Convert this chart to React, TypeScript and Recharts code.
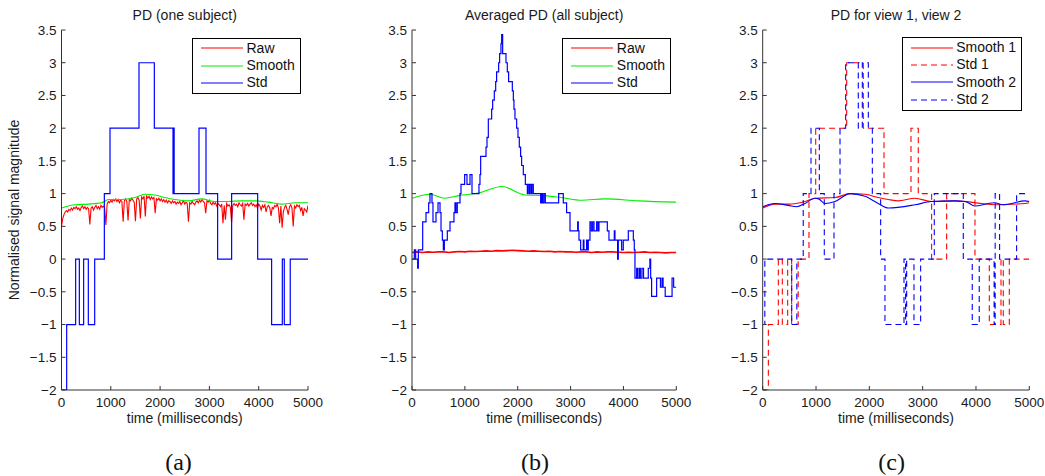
import React from 'react';
import { LineChart, Line, XAxis, YAxis, Legend, Label } from 'recharts';

const FONT = '"Liberation Sans", Arial, Helvetica, sans-serif';
const SERIF = '"Liberation Serif", "Times New Roman", serif';

const TIME_TICKS = [0, 1000, 2000, 3000, 4000, 5000];
const VALUE_TICKS = [-2, -1.5, -1, -0.5, 0, 0.5, 1, 1.5, 2, 2.5, 3, 3.5];
const PANEL_TITLES = ['PD (one subject)', 'Averaged PD (all subject)', 'PD for view 1, view 2'];
const PANEL_TAGS = ['(a)', '(b)', '(c)'];
const X_LABEL = 'time (milliseconds)';
const Y_LABEL = 'Normalised signal magnitude';

// ---------- Panel (a): one subject ----------
const RAW_A_STEP = 25;
const RAW_A = [
  0.50, 0.62, 0.68, 0.72, 0.74, 0.72, 0.76, 0.74, 0.78, 0.75,
  0.79, 0.77, 0.80, 0.76, 0.78, 0.74, 0.79, 0.81, 0.77, 0.80,
  0.76, 0.79, 0.77, 0.53, 0.78, 0.80, 0.75, 0.79, 0.82, 0.77,
  0.80, 0.76, 0.82, 0.79, 0.81, 0.78, 0.52, 0.84, 0.88, 0.86,
  0.90, 0.87, 0.91, 0.89, 0.92, 0.88, 0.91, 0.86, 0.90, 0.88,
  0.57, 0.89, 0.92, 0.88, 0.59, 0.91, 0.89, 0.93, 0.90, 0.87,
  0.58, 0.92, 0.94, 0.90, 0.62, 0.95, 0.92, 0.96, 0.65, 0.97,
  0.93, 0.96, 0.91, 0.95, 0.92, 0.94, 0.70, 0.92, 0.90, 0.93,
  0.89, 0.92, 0.88, 0.91, 0.87, 0.90, 0.86, 0.89, 0.88, 0.85,
  0.89, 0.86, 0.88, 0.84, 0.87, 0.85, 0.88, 0.83, 0.86, 0.89,
  0.84, 0.87, 0.85, 0.57, 0.86, 0.84, 0.88, 0.85, 0.83, 0.87,
  0.89, 0.86, 0.90, 0.87, 0.91, 0.88, 0.86, 0.70, 0.89, 0.87,
  0.90, 0.85, 0.83, 0.87, 0.84, 0.86, 0.81, 0.85, 0.83, 0.80,
  0.84, 0.55, 0.82, 0.60, 0.85, 0.81, 0.83, 0.79, 0.56, 0.82,
  0.85, 0.82, 0.84, 0.80, 0.86, 0.83, 0.81, 0.85, 0.60, 0.84,
  0.82, 0.85, 0.81, 0.84, 0.86, 0.82, 0.84, 0.80, 0.83, 0.78,
  0.84, 0.81, 0.75, 0.82, 0.79, 0.83, 0.72, 0.80, 0.82, 0.78,
  0.66, 0.79, 0.77, 0.82, 0.80, 0.84, 0.78, 0.55, 0.81, 0.48,
  0.72, 0.79, 0.82, 0.76, 0.68, 0.80, 0.83, 0.78, 0.50, 0.81,
  0.78, 0.83, 0.80, 0.82, 0.74, 0.79, 0.66, 0.77, 0.75, 0.72,
  0.82,
];
const SMOOTH_A_T = [0, 274, 544, 815, 950, 1220, 1490, 1693, 1896, 2098, 2301, 2572, 2842, 3112, 3383, 3653, 3923, 4194, 4464, 4735, 5000];
const SMOOTH_A = [0.78, 0.83, 0.84, 0.86, 0.91, 0.91, 0.94, 0.99, 0.98, 0.94, 0.91, 0.89, 0.92, 0.88, 0.88, 0.89, 0.89, 0.87, 0.84, 0.86, 0.86];
const STD_A_T = [0, 105, 287, 362, 449, 544, 673, 869, 984, 1572, 1883, 2262, 2272, 2285, 2789, 2931, 3167, 3451, 3979, 4262, 4479, 4519, 4640, 5000];
const STD_A = [-2, -1, 0, -1, 0, -1, 0, 1, 2, 3, 2, 1, 2, 1, 2, 1, 0, 1, 0, -1, 0, -1, 0, 0];

// ---------- Panel (b): averaged over subjects ----------
const RAW_B_STEP = 100;
const RAW_B = [
  0.10, 0.11, 0.10, 0.11, 0.105, 0.11, 0.11, 0.10, 0.11, 0.115,
  0.11, 0.12, 0.115, 0.12, 0.125, 0.12, 0.13, 0.125, 0.13, 0.135,
  0.13, 0.125, 0.12, 0.125, 0.12, 0.115, 0.12, 0.11, 0.115, 0.11,
  0.11, 0.105, 0.11, 0.11, 0.10, 0.11, 0.105, 0.11, 0.11, 0.105,
  0.10, 0.105, 0.10, 0.105, 0.11, 0.10, 0.105, 0.10, 0.095, 0.10,
  0.10,
];
const SMOOTH_B_T = [0, 340, 620, 880, 1255, 1700, 2140, 2500, 2830, 3210, 3650, 4280, 5000];
const SMOOTH_B = [0.93, 0.99, 0.93, 0.97, 1.01, 1.11, 0.98, 0.97, 0.94, 0.90, 0.92, 0.89, 0.87];
const STD_B_T = [
  0, 44, 69, 107, 120, 202, 265, 315, 340, 378, 397, 454, 492, 530, 549, 574, 593, 612, 668, 719,
  794, 813, 832, 857, 908, 927, 996, 1040, 1097, 1135, 1267, 1286, 1299, 1400, 1419, 1444, 1507, 1526, 1557, 1583,
  1601, 1639, 1658, 1683, 1696, 1715, 1778, 1803, 1828, 1898, 1917, 1929, 1948, 1980, 2005, 2030, 2055, 2074, 2106, 2144,
  2182, 2194, 2219, 2232, 2257, 2270, 2295, 2434, 2453, 2472, 2497, 2522, 2774, 2862, 2925, 2989, 3134, 3146, 3159, 3190,
  3240, 3253, 3303, 3316, 3335, 3367, 3392, 3418, 3443, 3493, 3518, 3537, 3695, 3726, 3827, 3840, 3890, 3903, 3966, 3997,
  4092, 4187, 4205, 4218, 4250, 4270, 4300, 4320, 4350, 4380, 4470, 4500, 4515, 4533, 4628, 4700, 4730, 4750, 4790, 4920,
  4950, 5000,
];
const STD_B = [
  0, 0.14, 0, -0.14, 0.14, 0.57, 0.71, 0.86, 1.0, 0.86, 0.57, 0.71, 0.86, 0.71, 0.43, 0.29, 0.14, 0.29, 0.43, 0.57,
  0.71, 0.86, 0.71, 0.86, 1.0, 1.14, 1.29, 1.14, 1.29, 1.0, 1.14, 1.29, 1.57, 1.71, 1.86, 2.14, 2.29, 2.43, 2.57, 2.71,
  2.86, 3.0, 3.14, 3.29, 3.43, 3.14, 3.0, 2.86, 2.71, 2.57, 2.43, 2.29, 2.14, 2.0, 1.86, 1.71, 1.57, 1.43, 1.29, 1.14,
  1.0, 1.14, 1.0, 1.14, 1.0, 1.14, 1.0, 0.86, 1.0, 0.86, 1.0, 0.86, 1.0, 0.86, 0.71, 0.43, 0.57, 0.43, 0.29, 0.14,
  0.29, 0.14, 0.29, 0.14, 0.29, 0.57, 0.43, 0.57, 0.43, 0.57, 0.43, 0.57, 0.43, 0.29, 0.43, 0.29, 0, 0.29, 0.14, 0.29,
  0.43, 0.29, 0.14, -0.29, -0.14, -0.29, -0.14, -0.29, -0.14, -0.29, -0.14, 0, -0.29, -0.57, -0.29, -0.43, -0.29, -0.43, -0.57, -0.29,
  -0.43, -0.43,
];

// ---------- Panel (c): view 1 vs view 2 ----------
const SMOOTH1_T = [0, 231, 481, 793, 981, 1356, 1637, 1918, 2168, 2356, 2543, 2856, 3168, 3606, 4106, 4356, 4918, 5000];
const SMOOTH1 = [0.78, 0.84, 0.84, 0.88, 0.93, 0.94, 1.0, 0.99, 0.94, 0.91, 0.89, 0.93, 0.88, 0.89, 0.85, 0.83, 0.85, 0.86];
const STD1_T = [0, 106, 293, 368, 468, 543, 665, 868, 994, 1575, 1887, 2275, 2781, 2918, 3168, 3450, 3981, 4250, 4469, 4512, 4625, 5000];
const STD1 = [-2, -1, 0, -1, 0, -1, 0, 1, 2, 3, 2, 1, 2, 1, 0, 1, 0, -1, 0, -1, 0, 0];
const SMOOTH2_T = [0, 231, 481, 637, 793, 981, 1050, 1168, 1356, 1637, 1918, 2168, 2356, 2856, 3168, 3606, 3800, 3981, 4231, 4350, 4500, 4668, 4918, 5000];
const SMOOTH2 = [0.80, 0.85, 0.82, 0.80, 0.85, 0.93, 0.92, 0.85, 0.88, 1.0, 0.96, 0.85, 0.78, 0.83, 0.88, 0.89, 0.88, 0.81, 0.85, 0.86, 0.83, 0.85, 0.89, 0.88];
const STD2_T = [0, 40, 544, 640, 760, 906, 1062, 1155, 1337, 1450, 1556, 1793, 1868, 1981, 2056, 2212, 2293, 2650, 2680, 2700, 2837, 2962, 3218, 3762, 3930, 4061, 4340, 4360, 4443, 4762, 5000];
const STD2 = [-1, 0, -1, 0, 1, 2, 1, 0, 1, 2, 3, 2, 3, 2, 1, 0, -1, 0, -1, 0, -1, 0, 1, 0, -1, 0, -1, 1, 0, 1, 1];

const RED = '#ff0000';
const GREEN = '#00ee00';
const BLUE = '#0000ff';

type Pt = { t: number; v: number };
const zip = (ts: number[], vs: number[]): Pt[] => ts.map((t, i) => ({ t, v: vs[i] }));
const sampled = (step: number, vs: number[]): Pt[] => vs.map((v, i) => ({ t: i * step, v }));

type Series = { name: string; data: Pt[]; color: string; dashed?: boolean; step?: boolean; width?: number; curve?: boolean };

const fmt = (v: number) => (v < 0 ? '\u2212' + String(-v) : String(v));

function XTick(props: any) {
  const { x, y, payload } = props;
  return (
    <g>
      <line x1={x} x2={x} y1={y} y2={y - 4} stroke="#333" strokeWidth={1} />
      <text x={x} y={y + 17} textAnchor="middle" fontSize={13.5} fontFamily={FONT} fill="#1a1a1a">
        {fmt(payload.value)}
      </text>
    </g>
  );
}

function YTick(props: any) {
  const { x, y, payload } = props;
  return (
    <g>
      <line x1={x} x2={x + 4} y1={y} y2={y} stroke="#333" strokeWidth={1} />
      <text x={x - 5} y={y + 4.8} textAnchor="end" fontSize={13.5} fontFamily={FONT} fill="#1a1a1a">
        {fmt(payload.value)}
      </text>
    </g>
  );
}

function XLabelContent(props: any) {
  const vb = props.viewBox || { x: 0, y: 0, width: 0 };
  return (
    <text x={vb.x + vb.width / 2} y={vb.y + 33} textAnchor="middle" fontSize={14} fontFamily={FONT} fill="#1a1a1a">
      {X_LABEL}
    </text>
  );
}

function YLabelContent(props: any) {
  const vb = props.viewBox || { x: 0, y: 0, height: 0 };
  const cx = vb.x + 18.5;
  const cy = vb.y + vb.height / 2;
  return (
    <text x={cx} y={cy} transform={`rotate(-90, ${cx}, ${cy})`} textAnchor="middle" fontSize={14} fontFamily={FONT} fill="#1a1a1a">
      {Y_LABEL}
    </text>
  );
}

function LegendBox({ items, width }: { items: Series[]; width: number }) {
  return (
    <div
      style={{
        width,
        boxSizing: 'border-box',
        border: '1px solid #000',
        background: '#fff',
        padding: '0.6px 0 1.4px 0',
        fontFamily: FONT,
        fontSize: 14,
        color: '#111',
      }}
    >
      {items.map((it) => (
        <div key={it.name} style={{ display: 'flex', alignItems: 'center', height: 17.35, whiteSpace: 'nowrap' }}>
          <svg width={50} height={6} style={{ flex: 'none', display: 'block' }}>
            <line x1={8} x2={50} y1={3} y2={3} stroke={it.color} strokeWidth={1.2} strokeDasharray={it.dashed ? '6 4' : undefined} />
          </svg>
          <span style={{ marginLeft: 3.5, lineHeight: '17.35px' }}>{it.name}</span>
        </div>
      ))}
    </div>
  );
}

type PanelProps = {
  left: number;
  width: number;
  plotLeft: number;
  plotRight: number;
  series: Series[];
  legendLeft: number;
  legendTop: number;
  legendWidth: number;
  showYLabel: boolean;
  title: string;
  tag: string;
  tagCenter: number;
};

function Panel(p: PanelProps) {
  return (
    <div style={{ position: 'absolute', left: p.left, top: 0, width: p.width, height: 476 }}>
      <LineChart width={p.width} height={476} margin={{ top: 30, right: p.width - p.plotRight, bottom: 0, left: 0 }}>
        <XAxis
          type="number"
          dataKey="t"
          domain={[0, 5000]}
          ticks={TIME_TICKS}
          interval={0}
          height={86}
          tickSize={0}
          tickMargin={0}
          tickLine={false}
          axisLine={{ stroke: '#333' }}
          tick={(tp: any) => <XTick {...tp} />}
          allowDataOverflow
        >
          <Label content={XLabelContent} />
        </XAxis>
        <YAxis
          type="number"
          domain={[-2, 3.5]}
          ticks={VALUE_TICKS}
          interval={0}
          width={p.plotLeft}
          tickSize={0}
          tickMargin={0}
          tickLine={false}
          axisLine={{ stroke: '#333' }}
          tick={(tp: any) => <YTick {...tp} />}
          allowDataOverflow
        >
          {p.showYLabel ? <Label content={YLabelContent} /> : null}
        </YAxis>
        {p.series.map((s) => (
          <Line
            key={s.name}
            name={s.name}
            data={s.data}
            dataKey="v"
            type={s.step ? 'stepAfter' : s.curve ? 'monotone' : 'linear'}
            stroke={s.color}
            strokeWidth={s.width ?? 1.1}
            strokeDasharray={s.dashed ? '6 4' : undefined}
            dot={false}
            activeDot={false}
            isAnimationActive={false}
          />
        ))}
        <Legend
          layout="vertical"
          align="center"
          verticalAlign="middle"
          wrapperStyle={{ left: p.legendLeft, top: p.legendTop, width: p.legendWidth }}
          content={() => <LegendBox items={p.series} width={p.legendWidth} />}
        />
      </LineChart>
      <div
        style={{
          position: 'absolute',
          left: p.plotLeft - 100,
          width: p.plotRight - p.plotLeft + 200,
          top: 7.6,
          textAlign: 'center',
          fontFamily: FONT,
          fontSize: 14,
          lineHeight: '14px',
          color: '#1a1a1a',
          whiteSpace: 'nowrap',
        }}
      >
        {p.title}
      </div>
      <div
        style={{
          position: 'absolute',
          left: p.tagCenter - 40,
          width: 80,
          top: 450,
          textAlign: 'center',
          fontFamily: SERIF,
          fontSize: 24,
          lineHeight: '24px',
          color: '#111',
        }}
      >
        {p.tag}
      </div>
    </div>
  );
}

const seriesA: Series[] = [
  { name: 'Raw', data: sampled(RAW_A_STEP, RAW_A), color: RED, width: 1.1 },
  { name: 'Smooth', data: zip(SMOOTH_A_T, SMOOTH_A), color: GREEN, curve: true },
  { name: 'Std', data: zip(STD_A_T, STD_A), color: BLUE, step: true, width: 1.2 },
];
const seriesB: Series[] = [
  { name: 'Raw', data: sampled(RAW_B_STEP, RAW_B), color: RED, width: 1.6 },
  { name: 'Smooth', data: zip(SMOOTH_B_T, SMOOTH_B), color: GREEN, curve: true },
  { name: 'Std', data: zip(STD_B_T, STD_B), color: BLUE, step: true, width: 1.2 },
];
const seriesC: Series[] = [
  { name: 'Smooth 1', data: zip(SMOOTH1_T, SMOOTH1), color: RED, curve: true },
  { name: 'Std 1', data: zip(STD1_T, STD1), color: RED, step: true, dashed: true },
  { name: 'Smooth 2', data: zip(SMOOTH2_T, SMOOTH2), color: BLUE, curve: true },
  { name: 'Std 2', data: zip(STD2_T, STD2), color: BLUE, step: true, dashed: true },
];

export default function App() {
  return (
    <div style={{ position: 'absolute', left: 0, top: 0, width: 1045, height: 476, background: '#fff', overflow: 'hidden' }}>
      <Panel left={0} width={350} plotLeft={61.5} plotRight={308} series={seriesA}
        legendLeft={192} legendTop={38} legendWidth={109} showYLabel title={PANEL_TITLES[0]} tag={PANEL_TAGS[0]} tagCenter={178.5} />
      <Panel left={350} width={350} plotLeft={62} plotRight={326.3} series={seriesB}
        legendLeft={212.3} legendTop={38} legendWidth={109} showYLabel={false} title={PANEL_TITLES[1]} tag={PANEL_TAGS[1]} tagCenter={185} />
      <Panel left={700} width={345} plotLeft={62.7} plotRight={329.3} series={seriesC}
        legendLeft={201.7} legendTop={37.3} legendWidth={120} showYLabel={false} title={PANEL_TITLES[2]} tag={PANEL_TAGS[2]} tagCenter={191.7} />
    </div>
  );
}
